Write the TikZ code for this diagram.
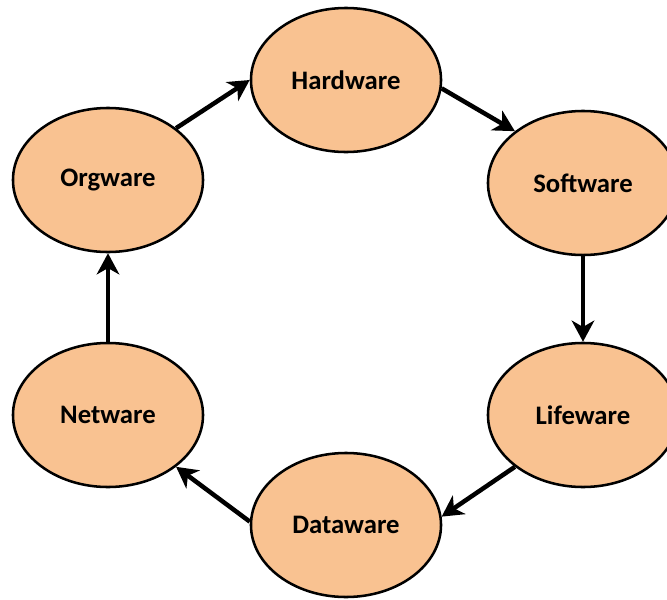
\documentclass[tikz,border=0pt]{standalone}
\usepackage{fontspec}
\setmainfont{Carlito}
\usetikzlibrary{shapes.geometric,arrows.meta}
\definecolor{wareorange}{RGB}{249,194,145}

\begin{document}
\begin{tikzpicture}[x=0.025cm,y=-0.025cm,
    ware/.style={ellipse,draw=black,line width=1.8pt,fill=wareorange,
      minimum width=4.75cm,minimum height=3.6cm,
      font=\fontsize{19}{21}\selectfont\bfseries},
    flow/.style={line width=3.2pt,-{Stealth[length=15pt,width=16pt,inset=4.5pt]}}]
    \useasboundingbox (0,0) rectangle (667,600);
    \clip (0,0) rectangle (667,600);
    \node[ware] (hw) at (346,80) {Hardware};
    \node[ware] (sw) at (583,183) {Software};
    \node[ware] (lw) at (583,415) {Lifeware};
    \node[ware] (dw) at (346,525) {Dataware};
    \node[ware] (nw) at (108,415) {Netware};
    \node[ware] (og) at (108,180) {Orgware};
    \path[flow]
    (hw.-5) edge (sw.north west)
    (sw.south) edge (lw.north)
    (lw.south west) edge (dw.5)
    (dw.178) edge (nw.south east)
    (nw.north) edge (og.south)
    (og.north east) edge (hw.west);
\end{tikzpicture}
\end{document}
